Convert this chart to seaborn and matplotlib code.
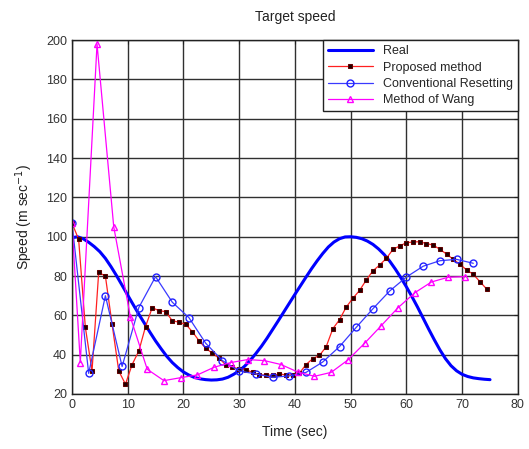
import matplotlib
matplotlib.use("Agg")
import matplotlib.pyplot as plt
import numpy as np
import pandas as pd
import seaborn as sns

# real target speed, read every 1 s
real_t = list(range(0, 76))
real_v = [99.5, 100, 99, 97.2, 95, 92.4, 89, 84.8, 80.2, 75.3,
          70.3, 65.4, 60.6, 56, 51.4, 47, 43, 39.2, 36, 33.4,
          31.2, 29.6, 28.4, 27.7, 27.3, 27.1, 27.2, 27.6, 28.5, 30,
          31.8, 34.2, 37.2, 40.6, 44.3, 48.4, 52.8, 57.2, 61.7, 66.2,
          70.7, 75.1, 79.5, 83.8, 87.8, 91.5, 94.8, 97.3, 99, 99.9,
          100, 99.7, 99, 97.8, 96.1, 93.8, 91, 87.6, 83.6, 79.2,
          74.5, 69.5, 64.2, 58.6, 53, 47.6, 42.5, 38, 34.4, 31.8,
          30, 28.9, 28.2, 27.8, 27.5, 27.3]

# proposed method, every 1.2 s
prop_t = [round(i * 1.2, 1) for i in range(63)]
prop_v = [107, 98.7, 54, 31.7, 81.9, 80, 55.5, 31.7, 25, 35,
          41.9, 54.3, 63.9, 62.4, 61.9, 57.3, 56.5, 55.5, 51.7, 47.1,
          43.3, 40.7, 38.2, 34.8, 33.6, 32.8, 32.4, 31, 29.7, 29.7,
          29.5, 30.2, 29.7, 29.8, 30.6, 35, 38, 39.6, 44, 53.2,
          57.8, 64.2, 68.7, 72.7, 78, 82.7, 85.6, 89, 93.6, 95.3,
          97, 97.3, 97.5, 96.5, 95.8, 93.6, 91.2, 88.5, 86, 83.1,
          80.9, 77.1, 73.4]

# conventional resetting, every 3 s
conv_t = list(range(0, 73, 3))
conv_v = [107, 30.5, 70, 34, 64, 79.7, 66.7, 58.8, 45.8, 37,
          31.7, 30.2, 28.5, 29.2, 31, 36.3, 44.1, 53.9, 63.4, 72.4,
          79.5, 85, 87.8, 88.5, 86.5]

# method of Wang
wang_t = [0, 1.5, 4.5, 7.5, 10.5, 13.5, 16.5, 19.5, 22.5, 25.5,
          28.5, 31.5, 34.5, 37.5, 40.5, 43.5, 46.5, 49.5, 52.5, 55.5,
          58.5, 61.5, 64.5, 67.5, 70.5]
wang_v = [107, 36, 198, 105, 59, 32.6, 26.8, 28.3, 29.7, 33.6,
          36, 37.5, 37, 35, 31.2, 29, 31, 37.3, 45.8, 54.8,
          63.9, 71.5, 77, 79.4, 79.7]

sns.set_style("white")
plt.rcParams["font.family"] = ["Liberation Sans", "DejaVu Sans"]

fig = plt.figure(figsize=(5.29, 4.49), dpi=100)
ax = fig.add_axes([0.136, 0.1225, 0.843, 0.788])

sns.lineplot(x=real_t, y=real_v, ax=ax, color="#0000ff", linewidth=2.2,
             label="Real", estimator=None, sort=False)
sns.lineplot(x=prop_t, y=prop_v, ax=ax, color="#ff2020", linewidth=0.9,
             marker="s", markersize=2.8, markerfacecolor="#200000",
             markeredgecolor="#600000", label="Proposed method",
             estimator=None, sort=False)
sns.lineplot(x=conv_t, y=conv_v, ax=ax, color="#3a3aff", linewidth=0.9,
             marker="o", markersize=5, markerfacecolor="none",
             markeredgecolor="#2020ff", markeredgewidth=1,
             label="Conventional Resetting", estimator=None, sort=False)
sns.lineplot(x=wang_t, y=wang_v, ax=ax, color="#ff00ff", linewidth=0.9,
             marker="^", markersize=4.5, markerfacecolor="none",
             markeredgecolor="#ff00ff", markeredgewidth=1,
             label="Method of Wang", estimator=None, sort=False)

ax.set_xlim(0, 80)
ax.set_ylim(20, 200)
ax.set_xticks(np.arange(0, 81, 10))
ax.set_yticks(np.arange(20, 201, 20))
ax.grid(True, color="#303030", linewidth=1, linestyle="-")
ax.set_axisbelow(True)
ax.tick_params(direction="in", length=3, top=True, right=True,
               labelsize=9, colors="#222222", labelcolor="#333333")
for s in ax.spines.values():
    s.set_color("#222222")
    s.set_linewidth(1)

ax.set_title("Target speed", fontsize=10, color="#222222", pad=14)
ax.set_xlabel("Time (sec)", fontsize=10, color="#222222", labelpad=10)
ax.set_ylabel("Speed (m sec$^{-1}$)", fontsize=10, color="#222222", labelpad=8)

leg = ax.legend(loc="upper right", fontsize=9, frameon=True, fancybox=False,
                framealpha=1, edgecolor="#222222", borderaxespad=0,
                handlelength=3.6, labelspacing=0.35, borderpad=0.4)
leg.get_frame().set_linewidth(1)

fig.savefig("out.png", dpi=100)
